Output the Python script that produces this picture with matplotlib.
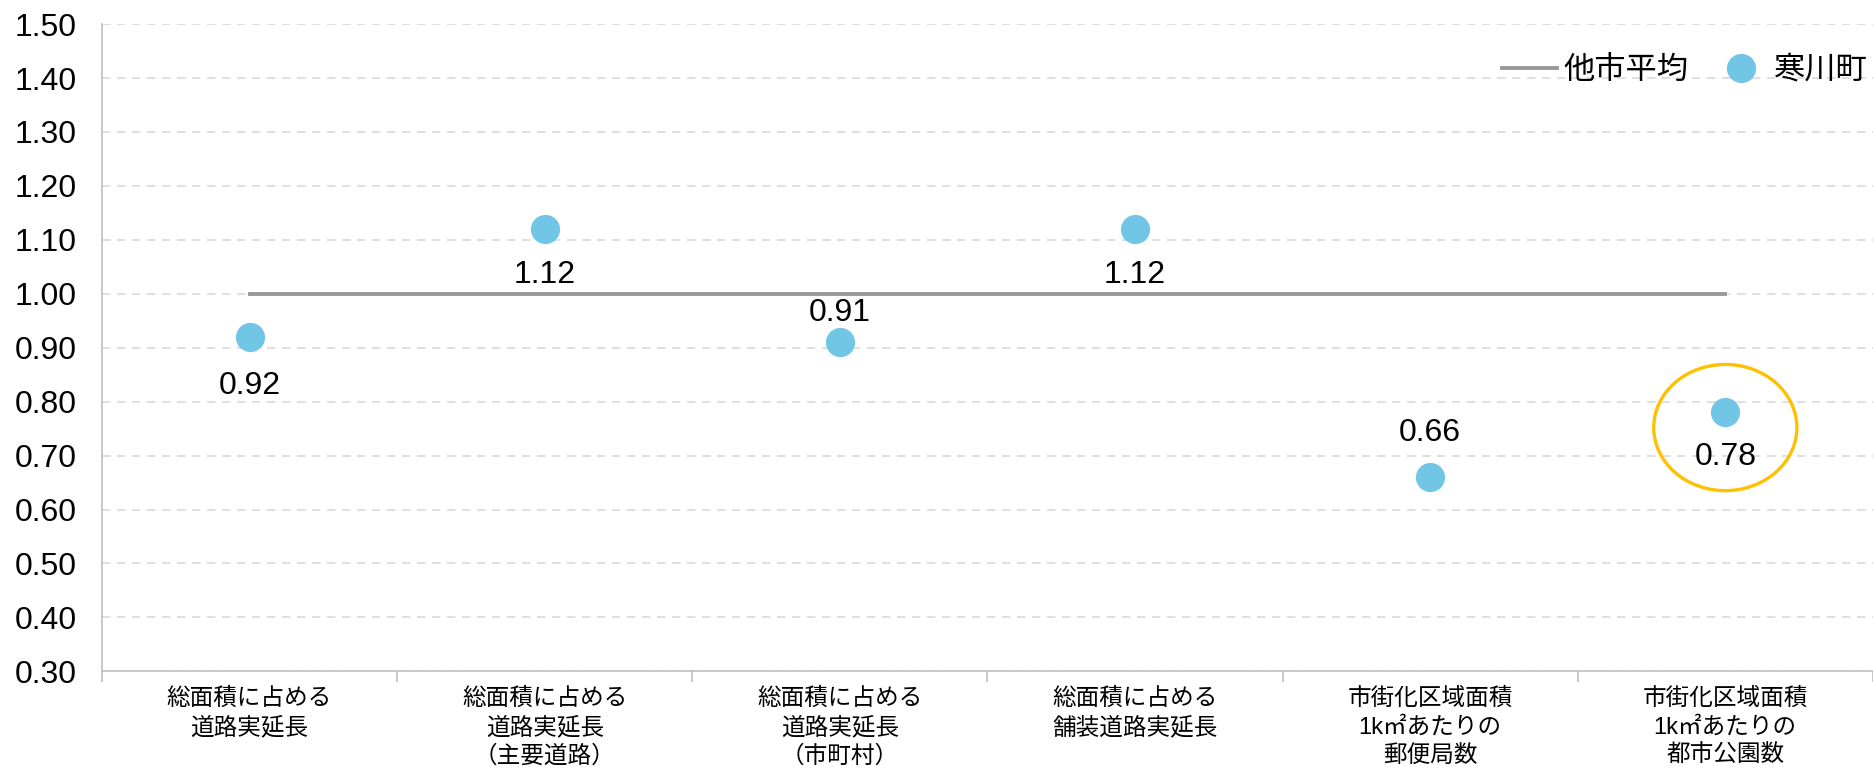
import matplotlib.pyplot as plt
from matplotlib.patches import Ellipse
import numpy as np

plt.rcParams['font.family'] = ['Liberation Sans', 'Noto Sans CJK JP', 'DejaVu Sans']

categories = [
    "総面積に占める\n道路実延長",
    "総面積に占める\n道路実延長\n（主要道路）",
    "総面積に占める\n道路実延長\n（市町村）",
    "総面積に占める\n舗装道路実延長",
    "市街化区域面積\n1k㎡あたりの\n郵便局数",
    "市街化区域面積\n1k㎡あたりの\n都市公園数",
]
samukawa = [0.92, 1.12, 0.91, 1.12, 0.66, 0.78]
others_avg = [1.00, 1.00, 1.00, 1.00, 1.00, 1.00]
highlight = 5

x = np.arange(len(categories))

fig = plt.figure(figsize=(18.74, 7.77), dpi=100)
ax = fig.add_axes([0.0544, 0.136, 0.945, 0.833])

ax.plot(x, others_avg, color="#999999", lw=2.8, label="他市平均", zorder=2)
ax.plot(x, samukawa, ls="none", marker="o", ms=20, color="#71C6E6",
        label="寒川町", zorder=3)

# label offsets in points (negative = below the dot)
offsets = [-35, -33, 21, -33, 32, -32]
for xi, v, off in zip(x, samukawa, offsets):
    ax.annotate(f"{v:.2f}", (xi, v), xytext=(0, off), textcoords="offset points",
                ha="center", va="center", fontsize=23)

ax.add_patch(Ellipse((x[highlight], 0.752), 0.485, 0.234, fill=False,
                     edgecolor="#FFC000", lw=2.4, zorder=4))

ax.set_xlim(-0.5, len(categories) - 0.5)
ax.set_ylim(0.30, 1.50)
ticks = np.arange(0.30, 1.501, 0.10)
ax.set_yticks(ticks)
ax.set_yticklabels([f"{t:.2f}" for t in ticks], fontsize=23)
ax.yaxis.grid(True, color="#D9D9D9", ls=(0, (5, 4)), lw=1.2)
ax.set_axisbelow(True)
ax.tick_params(axis="y", length=0, pad=18)

ax.set_xticks(x)
ax.set_xticklabels(categories, fontsize=17, linespacing=1.36)
ax.set_xticks(np.arange(-0.5, len(categories) + 0.5, 1), minor=True)
ax.tick_params(axis="x", which="major", length=0, pad=12)
ax.tick_params(axis="x", which="minor", length=8, color="#BFBFBF", width=1.2)

for s in ["top", "right"]:
    ax.spines[s].set_visible(False)
for s in ["left", "bottom"]:
    ax.spines[s].set_color("#BFBFBF")
    ax.spines[s].set_linewidth(1.2)

ax.legend(loc="upper right", bbox_to_anchor=(1.006, 0.975), frameon=False,
          fontsize=22.5, handlelength=1.75, handletextpad=0.2, columnspacing=0.8,
          ncol=2, borderaxespad=0.1)

fig.savefig("out.png", dpi=100)
